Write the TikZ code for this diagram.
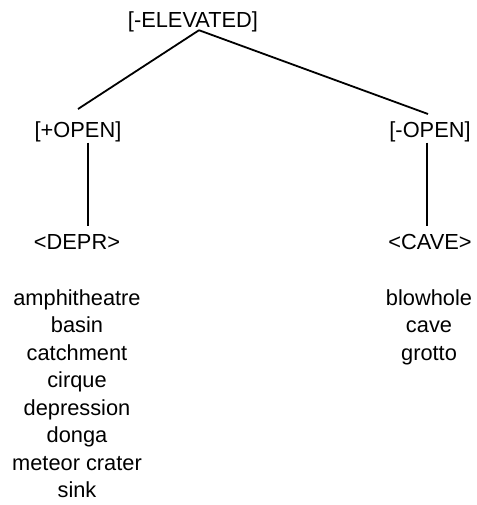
\documentclass[tikz,border=0pt]{standalone}
\usepackage{fontspec}
\setmainfont{Liberation Sans}
\begin{document}
\begin{tikzpicture}[x=1pt,y=1pt,
  lbl/.style={inner sep=0pt, anchor=base, font=\fontsize{21.8}{26}\selectfont},
  edge/.style={line width=1.8pt}]
\useasboundingbox (0,0) rectangle (476,-505);
\node[lbl] (top) at (193,-28) {[-ELEVATED]};
\node[lbl] (plus) at (78,-138) {[+OPEN]};
\node[lbl] (minus) at (430,-138) {[-OPEN]};
\node[lbl] (depr) at (77,-249) {<DEPR>};
\node[lbl] (cave) at (430,-249) {<CAVE>};
\draw[edge] ([xshift=6pt,yshift=2.5pt]top.south) -- ([yshift=13pt]plus.north);
\draw[edge] ([xshift=6pt,yshift=2.5pt]top.south) -- ([xshift=-2pt,yshift=8pt]minus.north);
\draw[edge] ([xshift=10pt,yshift=0pt]plus.south) -- ([xshift=11pt,yshift=8pt]depr.north);
\draw[edge] ([xshift=-3pt,yshift=0pt]minus.south) -- ([xshift=-3pt,yshift=8pt]cave.north);
\foreach \w [count=\i] in {amphitheatre,basin,catchment,cirque,depression,donga,meteor crater,sink}
  \node[lbl] (l\i) at (77,{-305-27.57*(\i-1)}) {\w};
\foreach \w [count=\i] in {blowhole,cave,grotto}
  \node[lbl] (r\i) at (429,{-305-27.57*(\i-1)}) {\w};
\end{tikzpicture}
\end{document}
